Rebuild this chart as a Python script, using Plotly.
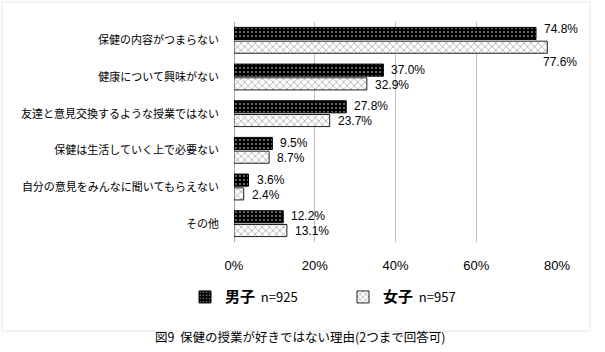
import plotly.graph_objects as go

categories = ["保健の内容がつまらない", "健康について興味がない", "友達と意見交換するような授業ではない",
              "保健は生活していく上で必要ない", "自分の意見をみんなに聞いてもらえない", "その他"]
male = [74.8, 37.0, 27.8, 9.5, 3.6, 12.2]
female = [77.6, 32.9, 23.7, 8.7, 2.4, 13.1]
male_name = "男子"
female_name = "女子"
male_n = "n=925"
female_n = "n=957"
x_ticks = [0, 20, 40, 60, 80]
title = "図9  保健の授業が好きではない理由(2つまで回答可)"

FONT = "Noto Sans CJK JP"
NUMFONT = "Liberation Sans"
L, R, T, B = 234, 48, 22, 110
W, H = 605, 352
PW, PH = W - L - R, H - T - B

def px_x(p):
    return (p - L) / PW

def px_y(p):
    return (H - B - p) / PH

fig = go.Figure()
fig.add_trace(go.Bar(
    y=categories, x=male, orientation="h",
    name=f"<span style='font-size:15px'><b>{male_name}</b></span>  {male_n}",
    marker=dict(color="black", line=dict(color="black", width=1),
                pattern=dict(shape=".", bgcolor="black", fgcolor="white", size=4, solidity=0.22)),
))
fig.add_trace(go.Bar(
    y=categories, x=female, orientation="h",
    name=f"<span style='font-size:15px'><b>{female_name}</b></span>  {female_n}",
    marker=dict(color="white", line=dict(color="#222222", width=1),
                pattern=dict(shape="x", bgcolor="white", fgcolor="black", size=5, solidity=0.2)),
))

lab_font = dict(family=NUMFONT, size=12, color="black")
ann = []
for i, c in enumerate(categories):
    ann.append(dict(x=male[i], y=c, text=f"{male[i]:.1f}%", xanchor="left", yanchor="middle",
                    xshift=7, yshift=7.5 + (4 if male[i] > 70 else 0), showarrow=False,
                    borderpad=0, font=lab_font))
    if female[i] > 76:
        ann.append(dict(x=female[i], y=c, text=f"{female[i]:.1f}%", xanchor="left", yanchor="middle",
                        xshift=-5, yshift=-22, showarrow=False, borderpad=0, font=lab_font))
    else:
        ann.append(dict(x=female[i], y=c, text=f"{female[i]:.1f}%", xanchor="left", yanchor="middle",
                        xshift=7, yshift=-7.5, showarrow=False, borderpad=0, font=lab_font))

ann.append(dict(x=px_x(300), y=px_y(336), xref="paper", yref="paper", text=title,
                showarrow=False, xanchor="center", yanchor="middle",
                font=dict(family=FONT, size=12.5, color="black")))

fig.update_layout(
    width=W, height=H,
    margin=dict(l=L, r=R, t=T, b=B, pad=0, autoexpand=False),
    paper_bgcolor="white", plot_bgcolor="white",
    barmode="group", bargap=0.25, bargroupgap=0.12,
    font=dict(family=FONT, size=11, color="black"),
    showlegend=True,
    legend=dict(orientation="h", xref="container", yref="container",
                x=185 / W, y=1 - 297 / H, xanchor="left", yanchor="middle",
                font=dict(family=FONT, size=13, color="black"),
                entrywidth=113, entrywidthmode="pixels", itemwidth=30,
                bgcolor="rgba(0,0,0,0)", traceorder="normal"),
    annotations=ann,
    shapes=[dict(type="rect", xref="paper", yref="paper",
                 x0=px_x(2), x1=px_x(590), y0=px_y(331), y1=px_y(2),
                 line=dict(color="#e6e6e6", width=1), layer="below")],
    xaxis=dict(range=[0, 80], tickvals=x_ticks, ticktext=[f"{v}%" for v in x_ticks],
               showgrid=True, gridcolor="#bfbfbf", gridwidth=1,
               zeroline=True, zerolinecolor="#a6a6a6", zerolinewidth=1,
               showline=False, ticks="", ticklabelstandoff=14, automargin=False,
               tickfont=dict(family=NUMFONT, size=13, color="black"), fixedrange=True),
    yaxis=dict(range=[len(categories) - 0.5, -0.5], autorange=False,
               showgrid=False, zeroline=False, showline=False,
               ticks="", ticklabelstandoff=14, automargin=False,
               tickfont=dict(family=FONT, size=11, color="black"), fixedrange=True),
)

fig.write_html("out.html")
